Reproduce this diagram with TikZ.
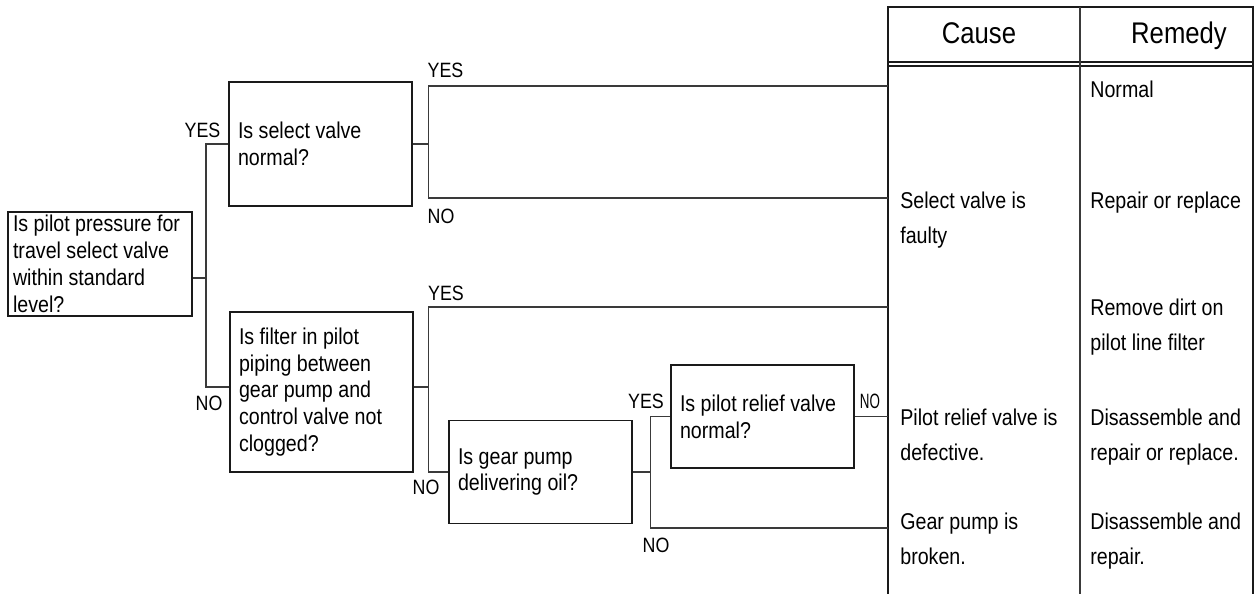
\documentclass[tikz,border=0pt]{standalone}
\usepackage{fontspec}
\setmainfont{Liberation Sans}[FakeStretch=0.86]
\definecolor{ChartInk}{HTML}{1A1A1A}
\definecolor{ChartLine}{HTML}{3A3A3A}

\begin{document}
\begin{tikzpicture}[
  x=0.02cm, y=-0.02cm,
  font=\fontsize{13}{15.3}\selectfont,
  qbox/.style={draw=ChartInk, line width=0.9pt, minimum width=3.66cm, text width=3.3cm, align=flush left, inner xsep=0.18cm, inner ysep=0pt},
  lbl/.style={font=\fontsize{11.8}{13}\selectfont, inner sep=0pt},
  cell/.style={anchor=north west, align=left, inner sep=0pt, font=\fontsize{13}{19.9}\selectfont},
  head/.style={anchor=base, inner sep=0pt, font=\fontsize{17}{19}\selectfont},
  link/.style={draw=ChartLine, line width=0.6pt},
  tbl/.style={draw=ChartInk, line width=0.9pt}
]
\useasboundingbox (0,0) rectangle (1255,594);

% question boxes
\node[qbox, minimum height=2.08cm, text width=3.48cm, inner xsep=0.1cm] (root) at (100,264) {Is pilot pressure for\\travel select valve\\within standard\\level?};
\node[qbox, minimum height=2.48cm] (sel) at (320.5,144) {Is select valve\\normal?};
\node[qbox, minimum height=3.2cm] (filt) at (321.5,392) {Is filter in pilot\\piping between\\gear pump and\\control valve not\\clogged?};
\node[qbox, minimum height=2.06cm] (gear) at (540.5,472) {Is gear pump\\delivering oil?};
\node[qbox, minimum height=2.06cm] (relief) at (762.5,416.5) {Is pilot relief valve\\normal?};

% cause / remedy table
\draw[tbl] (888,594) -- (888,7) -- (1253,7) -- (1253,594);
\draw[tbl] (888,62) -- (1253,62);
\draw[tbl] (888,66) -- (1253,66);
\draw[link] (1080,7) -- (1080,594);
\node[head] (hcause) at (979,44) {Cause};
\node[head] (hremedy) at (1179,44) {Remedy};

\coordinate (r1) at (888,86);
\coordinate (r2) at (888,198);
\coordinate (r3) at (888,307);
\coordinate (r4) at (888,416.5);
\coordinate (r5) at (888,528);

\node[cell] (c2) at (900,191.3) {Select valve is\\faulty};
\node[cell] (c4) at (900,408.3) {Pilot relief valve is\\defective.};
\node[cell] (c5) at (900,512.3) {Gear pump is\\broken.};
\node[cell] (m1) at (1090,80.3) {Normal};
\node[cell] (m2) at (1090,191.3) {Repair or replace};
\node[cell] (m3) at (1090,298.3) {Remove dirt on\\pilot line filter};
\node[cell] (m4) at (1090,408.3) {Disassemble and\\repair or replace.};
\node[cell] (m5) at (1090,512.3) {Disassemble and\\repair.};

% branches
\coordinate (j1) at (206,278);
\coordinate (j2) at ([xshift=0.32cm]sel.east);
\coordinate (j3) at ([xshift=0.3cm,yshift=0.1cm]filt.east);
\coordinate (j4) at ([xshift=0.36cm]gear.east);

\draw[link] (root.east |- j1) -- (j1);
\draw[link] (sel.west) -| (j1) |- ([yshift=0.1cm]filt.west);
\draw[link] (sel.east) -- (j2);
\draw[link] (r1) -| (j2) |- (r2);
\draw[link] ([yshift=0.1cm]filt.east) -- (j3);
\draw[link] (r3) -| (j3) |- (gear.west);
\draw[link] (gear.east) -- (j4);
\draw[link] (relief.west) -| (j4) |- (r5);
\draw[link] (relief.east) -- (r4);

\node[lbl] (y1) at (202.5,130.5) {YES};
\node[lbl] (n1) at (209,403) {NO};
\node[lbl] (y2) at (445.5,70) {YES};
\node[lbl] (n2) at (441,216) {NO};
\node[lbl] (y3) at (446,293) {YES};
\node[lbl] (n3) at (426,487) {NO};
\node[lbl] (y4) at (646,401) {YES};
\node[lbl] (n4) at (870,401) {\scalebox{0.75}[1]{NO}};
\node[lbl] (n5) at (656,545) {NO};
\end{tikzpicture}
\end{document}
